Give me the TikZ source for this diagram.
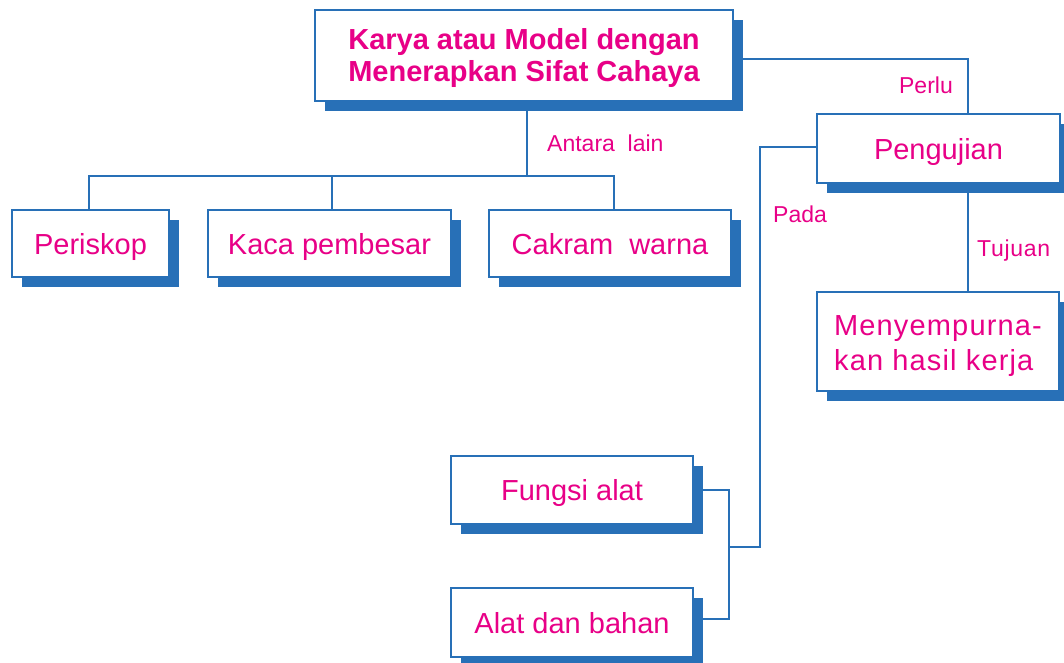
\documentclass[tikz,border=0pt]{standalone}
\usepackage{fontspec}
\setmainfont{Liberation Sans}
\usetikzlibrary{shadows}
\definecolor{myblue}{RGB}{40,112,183}
\definecolor{mymag}{RGB}{232,0,135}
\tikzset{
  box/.style={draw=myblue, line width=1.8pt, fill=white, inner sep=0pt,
    text=mymag, align=center, font=\fontsize{29}{33}\selectfont,
    drop shadow={shadow xshift=10pt, shadow yshift=-10pt, fill=myblue, opacity=1, draw=none}},
  one/.style={text height=21pt, text depth=0pt},
  conn/.style={draw=myblue, line width=1.8pt},
  lbl/.style={text=mymag, inner sep=0pt, font=\fontsize{23}{26}\selectfont}
}
\begin{document}
\begin{tikzpicture}[x=1pt,y=-1pt]
\useasboundingbox (0,0) rectangle (1064,662);
\node[box, font=\bfseries\fontsize{29}{32}\selectfont, minimum width=418pt, minimum height=91pt] (top) at (524,55.5) {\rule{0pt}{27pt}Karya atau Model dengan\\Menerapkan Sifat Cahaya};
\node[box, one, minimum width=157pt, minimum height=67pt] (peri) at (90.5,243.5) {Periskop};
\node[box, one, minimum width=243pt, minimum height=67pt] (kaca) at (329.5,243.5) {Kaca pembesar};
\node[box, one, minimum width=242pt, minimum height=67pt] (cakram) at (610,243.5) {Cakram\ \ warna};
\node[box, one, minimum width=243pt, minimum height=69pt] (peng) at (938.5,148.5) {Pengujian};
\node[box, align=left, font=\fontsize{29}{34}\selectfont\addfontfeature{LetterSpace=4}, minimum width=242pt, minimum height=99pt] (meny) at (938,341.5) {\rule{0pt}{29pt}Menyempurna-\\kan hasil kerja};
\node[box, one, minimum width=242pt, minimum height=68pt] (fungsi) at (572,490) {Fungsi alat};
\node[box, one, minimum width=242pt, minimum height=69pt] (alat) at (572,622.5) {Alat dan bahan};

\coordinate (j1) at (527,176);
\draw[conn] (top.south -| j1) -- (j1);
\draw[conn] ([xshift=-1.5pt]peri.north) |- (j1) -| ([xshift=4pt]cakram.north);
\draw[conn] ([xshift=2.5pt]kaca.north) -- ([xshift=2.5pt]kaca.north |- j1);

\draw[conn] ([yshift=-3.5pt]top.east) -| ([xshift=29.5pt]peng.north);
\draw[conn] ([xshift=29.5pt]peng.south) -- ([xshift=29.5pt]peng.south |- meny.north);

\coordinate (pv) at (760,547);
\coordinate (jv) at (729,547);
\draw[conn] ([yshift=1.5pt]peng.west) -| (pv) -- (jv);
\draw[conn] (fungsi.east) -| (jv) |- ([yshift=3.5pt]alat.east);

\node[lbl, anchor=base west] (l1) at (547,151) {Antara\ \ lain};
\node[lbl, anchor=base east] (l2) at (953,93) {Perlu};
\node[lbl, anchor=base west] (l3) at (773,222) {Pada};
\node[lbl, anchor=base west, font=\fontsize{23}{26}\selectfont\addfontfeature{LetterSpace=3}] (l4) at (977,256) {Tujuan};
\end{tikzpicture}
\end{document}
